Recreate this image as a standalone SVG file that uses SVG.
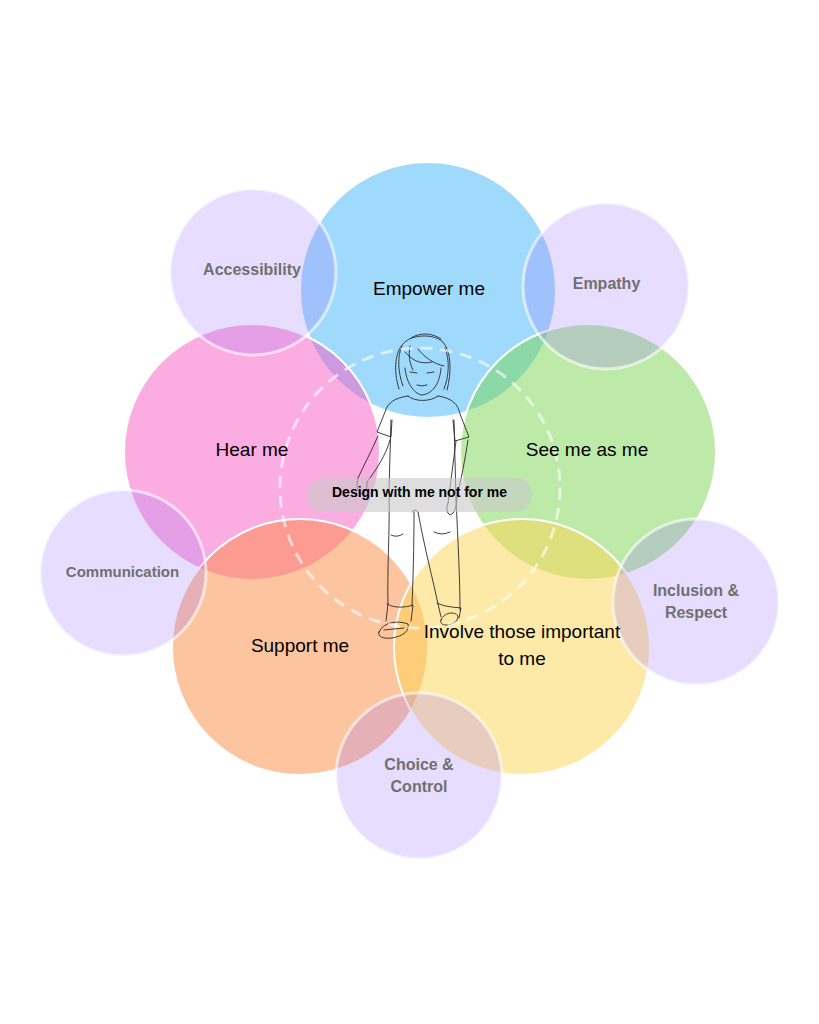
<svg xmlns="http://www.w3.org/2000/svg" width="819" height="1024" viewBox="0 0 819 1024">
<style>
.big{stroke:#ffffff;stroke-width:2;fill-opacity:0.5}
.small{fill:#a078fa;fill-opacity:0.25;stroke:#ffffff;stroke-opacity:0.6;stroke-width:3}
.bl{font-family:"Liberation Sans",Arial,sans-serif;font-size:19px;fill:#000;text-anchor:middle}
.sl{font-family:"Liberation Sans",Arial,sans-serif;font-size:16px;font-weight:bold;fill:#707070;text-anchor:middle}
.sk{fill:none;stroke:#2a2a2a;stroke-width:0.9;stroke-linecap:round;stroke-linejoin:round}
</style>
<rect width="819" height="1024" fill="#ffffff"/>
<g id="empower"><circle class="big" cx="428" cy="290" r="128" fill="#3fb5fb"/></g>
<g id="hear"><circle class="big" cx="252" cy="452" r="128" fill="#f759c1"/></g>
<g id="see"><circle class="big" cx="588" cy="452" r="128" fill="#7bd551"/></g>
<g id="support"><circle class="big" cx="300" cy="647" r="128" fill="#fb8941"/></g>
<g id="involve"><circle class="big" cx="522" cy="647" r="128" fill="#fdd551"/></g>
<g id="accessibility"><circle class="small" cx="253" cy="272" r="83"/><text class="sl" x="252" y="275">Accessibility</text></g>
<g id="empathy"><circle class="small" cx="606" cy="286" r="83"/><text class="sl" x="606.5" y="289">Empathy</text></g>
<g id="communication"><circle class="small" cx="123" cy="573" r="83"/><text class="sl" x="122.5" y="577" style="font-size:15px">Communication</text></g>
<g id="inclusion"><circle class="small" cx="696" cy="602" r="83"/><text class="sl" x="696" y="596">Inclusion &amp;</text><text class="sl" x="696" y="618">Respect</text></g>
<g id="choice"><circle class="small" cx="419" cy="776" r="83"/><text class="sl" x="419" y="770">Choice &amp;</text><text class="sl" x="419" y="792">Control</text></g>
<g id="figure" class="sk">
<path d="M399 389 C393 370 395 350 405 342 C412 335 433 333 443 342 C451 351 452 372 447 390"/>
<path d="M402 346 C397 356 398 373 403 386 M445 348 C450 360 449 376 444 389 M411 338 C420 332 433 333 441 339"/>
<path d="M405 368 C406 382 414 394 422 395 C432 394 440 384 441 368"/>
<path d="M405 352 C412 360 420 365 432 362 M418 349 C424 357 434 364 444 366 M410 346 C408 356 410 364 413 370"/>
<path d="M410 372 L417 373 M427 373 L434 372 M417 385 Q422 387 427 385"/>
<path d="M408 396 C415 402 430 402 438 396"/>
<path d="M408 396 C395 398 388 402 385 412 L377 432 L391 437 L392 420"/>
<path d="M438 396 C452 398 458 404 460 414 L469 437 L455 441 L453 420"/>
<path d="M391 420 L389 490 M454 420 L456 500"/>
<path d="M378 436 C372 450 364 465 358 478 M390 440 C386 455 376 470 367 482"/>
<path d="M358 478 Q355 490 361 494 Q368 493 367 482"/>
<path d="M468 440 C465 460 461 480 457 496 M456 441 L448 503"/>
<path d="M448 503 Q445 512 450 515 Q457 513 457 496"/>
<path d="M389 490 C390 530 387 570 388 604 M414 512 C414 550 413 580 412 606"/>
<path d="M418 512 C425 550 433 580 438 604 M456 500 C458 540 460 580 460 610 M412 512 Q415 508 418 512"/>
<path d="M391 535 Q397 538 403 534 M434 532 Q442 536 450 532"/>
<path d="M387 604 C393 608 405 608 413 605 L411 621 M388 604 L386 621"/>
<path d="M437 603 C445 607 453 607 461 608 L459 618 M438 604 L441 617"/>
<path d="M379 632 C383 622 398 620 408 624 C410 630 404 636 392 638 C384 639 377 637 379 632 Z M384 630 L404 628"/>
<path d="M441 620 C444 612 455 611 458 616 C458 622 452 625 446 625 C442 625 440 623 441 620 Z"/>
</g>
<g id="center">
<circle cx="420" cy="488" r="140" fill="none" stroke="#ffffff" stroke-opacity="0.6" stroke-width="3" stroke-dasharray="12 8"/>
<rect x="307" y="478" width="225" height="34" rx="17" fill="#c8c8c8" fill-opacity="0.6"/>
<text x="419.5" y="497" font-family="Liberation Sans, Arial, sans-serif" font-size="14" font-weight="bold" fill="#000" text-anchor="middle">Design with me not for me</text>
</g>
<g id="labels">
<text class="bl" x="429" y="295">Empower me</text>
<text class="bl" x="252" y="456">Hear me</text>
<text class="bl" x="587" y="456">See me as me</text>
<text class="bl" x="300" y="652">Support me</text>
<text class="bl" x="522" y="638">Involve those important</text>
<text class="bl" x="522" y="665">to me</text>
</g>
<g id="connectors"></g>
</svg>
